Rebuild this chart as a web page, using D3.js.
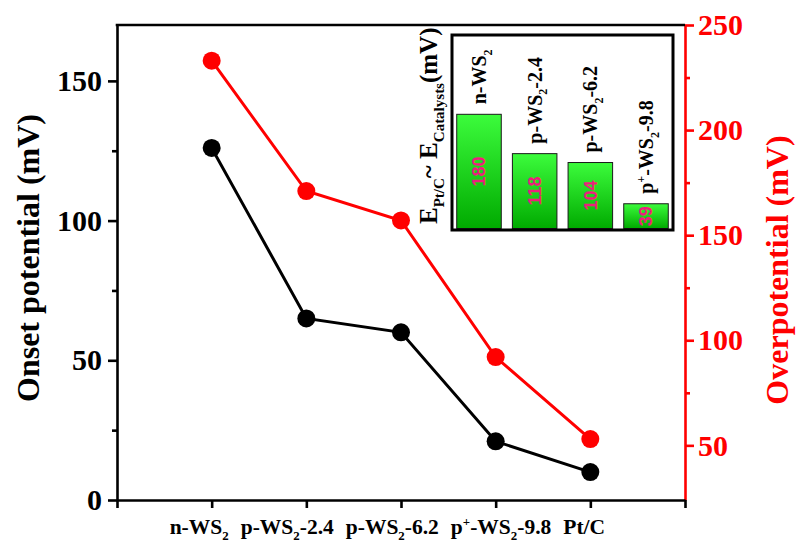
<!DOCTYPE html>
<html>
<head>
<meta charset="utf-8">
<script src="https://cdn.jsdelivr.net/npm/d3@7"></script>
<style>
  html, body { margin: 0; padding: 0; background: #ffffff; }
  svg { display: block; }
</style>
</head>
<body>
<svg id="chart" width="796" height="546"></svg>
<script>
// ---- data ----
const categories = ["n-WS2", "p-WS2-2.4", "p-WS2-6.2", "p+-WS2-9.8", "Pt/C"];
// rich-text parts for labels: [text, kind] kind: "" normal, "sub", "sup"
const categoryParts = [
  [["n-WS", ""], ["2", "sub"]],
  [["p-WS", ""], ["2", "sub"], ["-2.4", ""]],
  [["p-WS", ""], ["2", "sub"], ["-6.2", ""]],
  [["p", ""], ["+", "sup"], ["-WS", ""], ["2", "sub"], ["-9.8", ""]],
  [["Pt/C", ""]]
];
const onsetPotential = [126, 65, 60, 21, 10];      // left axis (mV)
const overpotential = [233, 171, 157, 92, 53];     // right axis (mV)
const insetCategories = ["n-WS2", "p-WS2-2.4", "p-WS2-6.2", "p+-WS2-9.8"];
const insetValues = [180, 118, 104, 39];
const leftTicks = [0, 50, 100, 150];
const leftMinorTicks = [25, 75, 125];
const rightTicks = [50, 100, 150, 200, 250];
const rightMinorTicks = [75, 125, 175, 225];
const xTickPositions = [0, 1, 2, 3, 4, 5, 6];

// ---- setup ----
const svg = d3.select("#chart");
const serif = "'Liberation Serif', 'Times New Roman', serif";
const sans = "'Liberation Sans', Arial, sans-serif";
const RED = "#ff0000";

const x = d3.scaleLinear().domain([0, 6]).range([117, 685]);
const yL = d3.scaleLinear().domain([0, 170]).range([500, 25]);
const yR = d3.scaleLinear().domain([24, 250]).range([500, 25]);

function richText(sel, parts, size) {
  parts.forEach((p, i) => {
    const [t, kind] = p;
    const prev = i > 0 ? parts[i - 1][1] : "";
    let dy = 0;
    if (prev === "sub") dy -= size * 0.28;
    if (prev === "sup") dy += size * 0.38;
    if (kind === "sub") dy += size * 0.28;
    if (kind === "sup") dy -= size * 0.38;
    sel.append("tspan")
      .attr("dy", dy)
      .attr("font-size", kind ? size * 0.6 : size)
      .text(t);
  });
}

// ---- axes ----
const gL = svg.append("g").attr("transform", "translate(117,0)");
gL.call(d3.axisLeft(yL).tickValues(leftTicks).tickSize(9).tickSizeOuter(0).tickFormat(""));
gL.append("g").call(d3.axisLeft(yL).tickValues(leftMinorTicks).tickSize(5).tickSizeOuter(0).tickFormat(""))
  .select(".domain").remove();
gL.selectAll("path, line").attr("stroke", "#000").attr("stroke-width", 2.6);
gL.selectAll(".tick-label").data(leftTicks).enter().append("text")
  .attr("x", -15).attr("y", d => yL(d)).attr("dy", "0.34em")
  .attr("text-anchor", "end").attr("font-family", serif).attr("font-weight", "bold")
  .attr("font-size", 30).attr("fill", "#000").text(d => d);

const gR = svg.append("g").attr("transform", "translate(685,0)");
gR.call(d3.axisRight(yR).tickValues(rightTicks).tickSize(9).tickSizeOuter(0).tickFormat(""));
gR.append("g").call(d3.axisRight(yR).tickValues(rightMinorTicks).tickSize(5).tickSizeOuter(0).tickFormat(""))
  .select(".domain").remove();
gR.selectAll("path, line").attr("stroke", RED).attr("stroke-width", 2.6);
gR.selectAll(".tick-label").data(rightTicks).enter().append("text")
  .attr("x", 13).attr("y", d => yR(d)).attr("dy", "0.34em")
  .attr("text-anchor", "start").attr("font-family", serif).attr("font-weight", "bold")
  .attr("font-size", 30).attr("fill", RED).text(d => d);

const gB = svg.append("g").attr("transform", "translate(0,500)");
gB.call(d3.axisBottom(x).tickValues(xTickPositions).tickSize(8).tickSizeOuter(0).tickFormat(""));
gB.selectAll("path, line").attr("stroke", "#000").attr("stroke-width", 2.6);

// top frame line
svg.append("line").attr("x1", x(0) - 1.3).attr("x2", x(6)).attr("y1", 25).attr("y2", 25)
  .attr("stroke", "#000").attr("stroke-width", 2.6);

// x labels: flowing row of category names, starting just left of the first tick
let cursor = x(1) - 42;
categoryParts.forEach((parts, i) => {
  const t = svg.append("text")
    .attr("x", cursor).attr("y", 534)
    .attr("text-anchor", "start").attr("font-family", serif).attr("font-weight", "bold")
    .attr("fill", "#000");
  richText(t, parts, 21.5);
  cursor += t.node().getComputedTextLength() + 12;
});

// axis titles
svg.append("text")
  .attr("transform", `translate(39,258) rotate(-90)`)
  .attr("text-anchor", "middle").attr("font-family", serif).attr("font-weight", "bold")
  .attr("font-size", 32).attr("fill", "#000").text("Onset potential (mV)");
svg.append("text")
  .attr("transform", `translate(788,270) rotate(-90)`)
  .attr("text-anchor", "middle").attr("font-family", serif).attr("font-weight", "bold")
  .attr("font-size", 32).attr("fill", RED).text("Overpotential (mV)");

// ---- lines + points ----
function series(vals, scale, color) {
  const line = d3.line().x((d, i) => x(i + 1)).y(d => scale(d));
  svg.append("path").datum(vals).attr("d", line)
    .attr("fill", "none").attr("stroke", color).attr("stroke-width", 3);
  svg.selectAll(null).data(vals).enter().append("circle")
    .attr("cx", (d, i) => x(i + 1)).attr("cy", d => scale(d)).attr("r", 9)
    .attr("fill", color);
}
series(onsetPotential, yL, "#000");
series(overpotential, yR, RED);

// ---- inset bar chart ----
const inset = { x0: 452, x1: 673, y0: 35, y1: 230 };
const xb = d3.scaleBand().domain(insetCategories).range([inset.x0, inset.x1])
  .paddingInner(0.2).paddingOuter(0.085);
const yb = d3.scaleLinear().domain([0, 305]).range([228.5, inset.y0]);

const defs = svg.append("defs");
const grad = defs.append("linearGradient").attr("id", "barGrad")
  .attr("x1", 0).attr("y1", 0).attr("x2", 0).attr("y2", 1);
grad.append("stop").attr("offset", "0%").attr("stop-color", "#3cfc3c");
grad.append("stop").attr("offset", "100%").attr("stop-color", "#00aa00");

svg.append("rect").attr("x", inset.x0).attr("y", inset.y0)
  .attr("width", inset.x1 - inset.x0).attr("height", inset.y1 - inset.y0)
  .attr("fill", "#fff");

svg.selectAll(".bar").data(insetValues).enter().append("rect")
  .attr("x", (d, i) => xb(insetCategories[i]))
  .attr("y", d => yb(d))
  .attr("width", xb.bandwidth())
  .attr("height", d => yb(0) - yb(d))
  .attr("fill", "url(#barGrad)").attr("stroke", "#1a1a1a").attr("stroke-width", 1);

// value labels
insetValues.forEach((v, i) => {
  const cx = xb(insetCategories[i]) + xb.bandwidth() / 2;
  const cy = (yb(v) + yb(0)) / 2;
  svg.append("text")
    .attr("transform", `translate(${cx},${cy}) rotate(-90)`)
    .attr("dy", "0.35em").attr("text-anchor", "middle")
    .attr("font-family", sans).attr("font-weight", "bold").attr("font-size", 18)
    .attr("fill", "#ec1f7c").text(v);
});

// category labels above bars
insetValues.forEach((v, i) => {
  const cx = xb(insetCategories[i]) + xb.bandwidth() / 2;
  const t = svg.append("text")
    .attr("transform", `translate(${cx + 7},${yb(v) - 10}) rotate(-90)`)
    .attr("text-anchor", "start").attr("font-family", serif).attr("font-weight", "bold")
    .attr("fill", "#000");
  richText(t, categoryParts[i], 20);
});

// inset frame
svg.append("rect").attr("x", inset.x0).attr("y", inset.y0)
  .attr("width", inset.x1 - inset.x0).attr("height", inset.y1 - inset.y0)
  .attr("fill", "none").attr("stroke", "#000").attr("stroke-width", 3);

// inset title
const it = svg.append("text")
  .attr("transform", `translate(437,224) rotate(-90)`)
  .attr("text-anchor", "start").attr("font-family", serif).attr("font-weight", "bold")
  .attr("fill", "#000");
richText(it, [["E", ""], ["Pt/C", "sub"], ["~ E", ""], ["Catalysts", "sub"], ["(mV)", ""]], 25);
</script>
</body>
</html>
